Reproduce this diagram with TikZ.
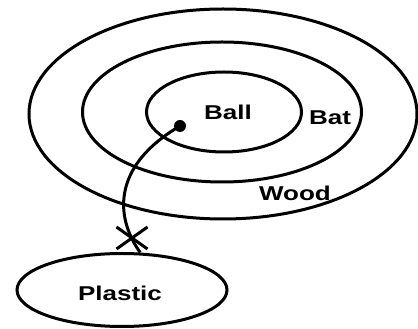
\documentclass[tikz,border=0pt]{standalone}
\usepackage{fontspec}
\newfontfamily\labelfont[FakeStretch=1.3]{Liberation Sans}
\usetikzlibrary{shapes.geometric,shapes.misc}

\tikzset{
    ring/.style={ellipse,draw,line width=3pt,inner sep=0pt},
    word/.style={font=\labelfont\bfseries\fontsize{20}{23}\selectfont},
    wire/.style={line width=3pt}
}

\begin{document}
\begin{tikzpicture}[x=1pt,y=1pt]
    \useasboundingbox (0,0) rectangle (418,329);
    % Nested rings
    \node[ring,minimum width=388pt,minimum height=210pt] (wood) at (223,215) {};
    \node[ring,minimum width=279pt,minimum height=140pt] (bat) at (222,217) {};
    \node[ring,minimum width=155pt,minimum height=80pt] (ball) at (224,217) {};
    % Separate ring
    \node[ring,minimum width=210pt,minimum height=73pt] (plastic) at (122,39) {};

    % Labels
    \node[word] (balltext) at (228,217) {Ball};
    \node[word] (battext) at (330,211) {Bat};
    \node[word] (woodtext) at (295,136) {Wood};
    \node[word] (plastictext) at (120,36) {Plastic};

    % Link with its cut
    \node[circle,fill,inner sep=0pt,minimum size=12pt] (dot) at (180,203) {};
    \draw[wire] (dot.center) .. controls (110,162) and (116,110) .. (plastic.64);
    \node[cross out,draw,line width=3pt,minimum width=28pt,minimum height=19pt] (cut) at (132,91) {};
\end{tikzpicture}
\end{document}
